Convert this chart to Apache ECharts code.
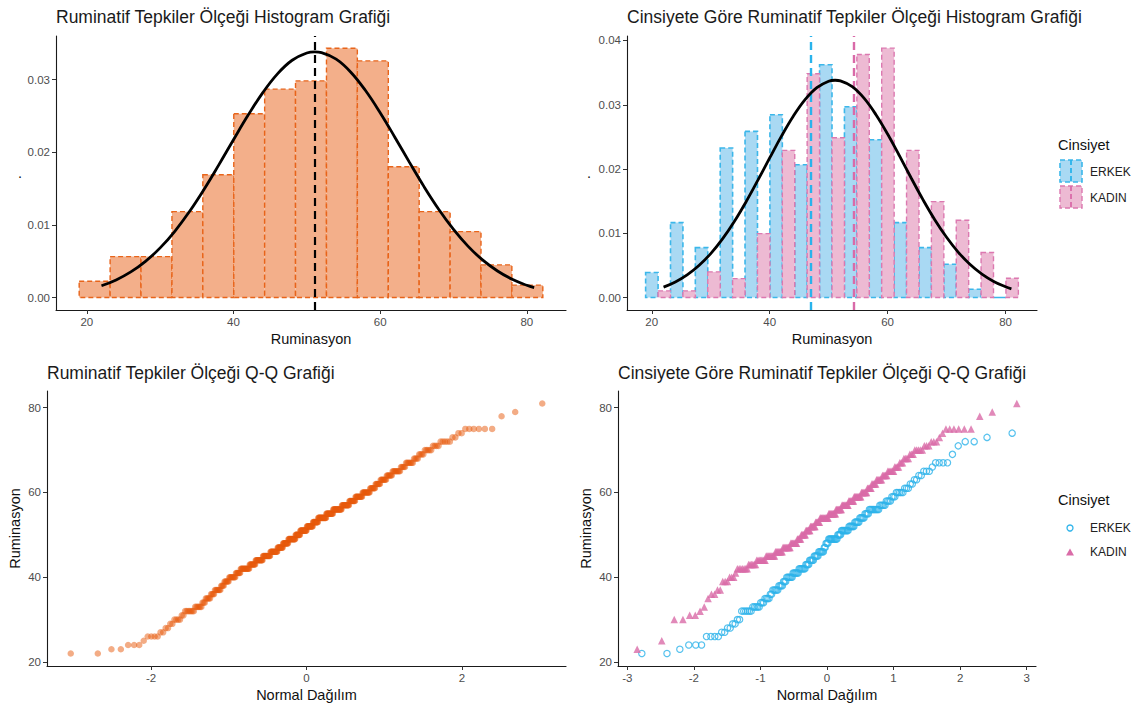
<!DOCTYPE html>
<html><head><meta charset="utf-8">
<script src="https://cdn.jsdelivr.net/npm/echarts@6/dist/echarts.min.js"></script>
<style>html,body{margin:0;padding:0;background:#fff}#c{width:1146px;height:707px}</style>
</head><body><div id="c"></div>
<script>
// ---------- data ----------
const binEdges = [18.96,23.18,27.39,31.61,35.82,40.04,44.25,48.46,52.68,56.89,61.11,65.32,69.54,73.75,77.96,82.18];
const densityAll = [0.00224,0.00563,0.00563,0.01182,0.0169,0.02529,0.02868,0.02982,0.03431,0.03257,0.0180,0.01182,0.00907,0.00449,0.0017];
const densityErkek = [0.00389,0.01166,0.00777,0.02326,0.02585,0.02845,0.02067,0.03622,0.02969,0.02456,0.01166,0.00777,0.00518,0.0013,0];
const densityKadin = [0.00104,0.00104,0.00399,0.00295,0.00995,0.0229,0.03482,0.02487,0.03782,0.03881,0.0229,0.01492,0.01202,0.007,0.003];

const curveX = [22,24,26,28,30,32,34,36,38,40,42,44,46,48,50,51.1,52,54,56,58,60,62,64,66,68,70,72,74,76,78,80,81];
const curveY = [0.00162,0.00242,0.00352,0.00498,0.00683,0.00912,0.01183,0.01491,0.01826,0.02172,0.02511,0.02821,0.03079,0.03266,0.03366,0.03381,0.03371,0.03281,0.03102,0.02849,0.02544,0.02207,0.01860,0.01523,0.01212,0.00938,0.00704,0.00514,0.00365,0.00251,0.00168,0.00136];

const meanAll = 51.1, meanErkek = 47.0, meanKadin = 54.2;

const erkekScores = [22,23,24,26,27,28,29,30,32,33,34,35,36,37,38,39,40,41,42,43,44,45,46,47,48,49,50,51,52,53,54,55,56,57,58,59,60,61,62,63,64,65,66,67,69,71,72,73,74];
const erkekCounts = [2,1,3,4,2,2,2,2,6,5,3,4,2,5,4,3,6,6,7,4,5,5,6,2,3,10,4,8,6,5,5,4,9,5,4,3,5,3,2,2,2,3,1,4,1,1,2,1,1];
const kadinScores = [23,25,30,31,32,33,35,36,37,39,40,41,42,43,44,45,46,47,48,49,50,51,52,53,54,55,56,57,58,59,60,61,62,63,64,65,66,67,68,69,70,71,72,73,74,75,78,79,81];
const kadinCounts = [1,1,2,2,1,1,1,2,2,3,3,1,7,6,8,9,8,9,8,5,6,6,7,6,12,10,8,9,7,9,7,5,5,6,5,6,4,3,4,3,5,3,3,1,1,6,1,1,1];

const xTicksHist = [20,40,60,80];
const yTicksHist1 = [0,0.01,0.02,0.03];
const yTicksHist2 = [0,0.01,0.02,0.03,0.04];
const xTicksQQ1 = [-2,0,2];
const xTicksQQ2 = [-3,-2,-1,0,1,2,3];
const yTicksQQ = [20,40,60,80];

// ---------- helpers ----------
function qnorm(p){
  const a=[-3.969683028665376e+01,2.209460984245205e+02,-2.759285104469687e+02,1.383577518672690e+02,-3.066479806614716e+01,2.506628277459239e+00];
  const b=[-5.447609879822406e+01,1.615858368580409e+02,-1.556989798598866e+02,6.680131188771972e+01,-1.328068155288572e+01];
  const c=[-7.784894002430293e-03,-3.223964580411365e-01,-2.400758277161838e+00,-2.549732539343734e+00,4.374664141464968e+00,2.938163982698783e+00];
  const d=[7.784695709041462e-03,3.224671290700398e-01,2.445134137142996e+00,3.754408661907416e+00];
  const pl=0.02425, ph=1-pl; let q,r;
  if(p<pl){q=Math.sqrt(-2*Math.log(p));return (((((c[0]*q+c[1])*q+c[2])*q+c[3])*q+c[4])*q+c[5])/((((d[0]*q+d[1])*q+d[2])*q+d[3])*q+1);}
  if(p>ph){q=Math.sqrt(-2*Math.log(1-p));return -(((((c[0]*q+c[1])*q+c[2])*q+c[3])*q+c[4])*q+c[5])/((((d[0]*q+d[1])*q+d[2])*q+d[3])*q+1);}
  q=p-0.5;r=q*q;return (((((a[0]*r+a[1])*r+a[2])*r+a[3])*r+a[4])*r+a[5])*q/(((((b[0]*r+b[1])*r+b[2])*r+b[3])*r+b[4])*r+1);
}
function expand(scores, counts){const out=[];scores.forEach((s,i)=>{for(let k=0;k<counts[i];k++)out.push(s);});return out.sort((x,y)=>x-y);}
function qq(values){const n=values.length;return values.map((v,i)=>[qnorm((i+0.5)/n),v]);}

const erkekVals = expand(erkekScores, erkekCounts);
const kadinVals = expand(kadinScores, kadinCounts);
const allVals = erkekVals.concat(kadinVals).sort((x,y)=>x-y);

const histAll = densityAll.map((d,i)=>[binEdges[i],binEdges[i+1],d]);
const histErkek = densityErkek.map((d,i)=>[binEdges[i],(binEdges[i]+binEdges[i+1])/2,d]);
const histKadin = densityKadin.map((d,i)=>[(binEdges[i]+binEdges[i+1])/2,binEdges[i+1],d]);
const curve = curveX.map((x,i)=>[x,curveY[i]]);

// ---------- styles ----------
const FONT = "'Liberation Sans', Arial, Helvetica, sans-serif";
function xAx(gi, min, max, ticks, name, fmt){
  return {type:'value', gridIndex:gi, min:min, max:max,
    axisLine:{show:true,onZero:false,lineStyle:{color:'#1a1a1a',width:1.1}},
    axisTick:{show:true,length:4,customValues:ticks,lineStyle:{color:'#333',width:1}},
    axisLabel:{show:true,customValues:ticks,color:'#4d4d4d',fontSize:11.5,fontFamily:FONT,margin:6,formatter:fmt||(v=>String(v))},
    splitLine:{show:false},
    name:name,nameLocation:'middle',nameGap:21,nameTextStyle:{fontSize:14.5,color:'#111',fontFamily:FONT}};
}
function yAx(gi, min, max, ticks, name, fmt, gap, rot){
  return {type:'value', gridIndex:gi, min:min, max:max,
    axisLine:{show:true,onZero:false,lineStyle:{color:'#1a1a1a',width:1.1}},
    axisTick:{show:true,length:4,customValues:ticks,lineStyle:{color:'#333',width:1}},
    axisLabel:{show:true,customValues:ticks,color:'#4d4d4d',fontSize:11.5,fontFamily:FONT,margin:6,formatter:fmt||(v=>String(v))},
    splitLine:{show:false},
    name:name,nameLocation:'middle',nameGap:gap,nameRotate:rot,nameTextStyle:{fontSize:14.5,color:'#111',fontFamily:FONT}};
}
function rectSeries(xi, data, fill, stroke, lw, z){
  return {type:'custom', xAxisIndex:xi, yAxisIndex:xi, data:data, z:z, encode:{x:[0,1],y:2}, silent:true,
    renderItem:function(params, api){
      const p0=api.coord([api.value(0),api.value(2)]);
      const p1=api.coord([api.value(1),0]);
      return {type:'rect', shape:{x:p0[0],y:p0[1],width:p1[0]-p0[0],height:p1[1]-p0[1]},
        style:{fill:fill,stroke:stroke,lineWidth:lw,lineDash:[5,3]}};
    }};
}
function vline(xi, x, color, w){
  return {type:'line', xAxisIndex:xi, yAxisIndex:xi, data:[], z:4,
    markLine:{silent:true,symbol:['none','none'],animation:false,label:{show:false},
      lineStyle:{color:color,width:w,type:[8,5]},data:[{xAxis:x}]}};
}
const titleStyle = {fontSize:17.5,fontWeight:'normal',color:'#1a1a1a',fontFamily:FONT};
const txt = (x,y,t,size,color)=>({type:'text',x:x,y:y,style:{text:t,fontSize:size,fill:color,fontFamily:FONT,verticalAlign:'middle',textVerticalAlign:'middle',align:'left'}});

const option = {
  animation:false,
  backgroundColor:'#fff',
  title:[
    {text:'Ruminatif Tepkiler Ölçeği Histogram Grafiği',left:56,top:8,padding:0,textStyle:titleStyle},
    {text:'Cinsiyete Göre Ruminatif Tepkiler Ölçeği Histogram Grafiği',left:627,top:8,padding:0,textStyle:titleStyle},
    {text:'Ruminatif Tepkiler Ölçeği Q-Q Grafiği',left:47,top:364,padding:0,textStyle:titleStyle},
    {text:'Cinsiyete Göre Ruminatif Tepkiler Ölçeği Q-Q Grafiği',left:618,top:364,padding:0,textStyle:titleStyle}
  ],
  grid:[
    {left:56,top:36,width:510,height:274,outerBoundsMode:'none'},
    {left:627,top:36,width:410,height:274,outerBoundsMode:'none'},
    {left:47,top:391,width:519,height:275,outerBoundsMode:'none'},
    {left:618,top:391,width:418,height:275,outerBoundsMode:'none'}
  ],
  xAxis:[
    xAx(0,15.8,85.34,xTicksHist,'Ruminasyon'),
    xAx(1,15.8,85.34,xTicksHist,'Ruminasyon'),
    xAx(2,-3.34,3.34,xTicksQQ1,'Normal Dağılım'),
    xAx(3,-3.14,3.14,xTicksQQ2,'Normal Dağılım')
  ],
  yAxis:[
    yAx(0,-0.00172,0.0360,yTicksHist1,'.',v=>v.toFixed(2),34,0),
    yAx(1,-0.00194,0.0407,yTicksHist2,'.',v=>v.toFixed(2),36,0),
    yAx(2,19.05,83.95,yTicksQQ,'Ruminasyon',null,25,90),
    yAx(3,19.05,83.95,yTicksQQ,'Ruminasyon',null,25,90)
  ],
  series:[
    rectSeries(0,histAll,'#F3AF8A','#E8641A',1.4,1),
    vline(0,meanAll,'#000',2.2),
    {type:'line',xAxisIndex:0,yAxisIndex:0,data:curve,smooth:0.4,showSymbol:false,z:5,lineStyle:{color:'#000',width:2.8}},

    rectSeries(1,histErkek,'#A9D9F3','#3BB7EA',1.6,1),
    rectSeries(1,histKadin,'#EDBAD3','#DC78B0',1.4,2),
    vline(1,meanErkek,'#29B3EC',2.4),
    vline(1,meanKadin,'#D96AA8',2.4),
    {type:'line',xAxisIndex:1,yAxisIndex:1,data:curve,smooth:0.4,showSymbol:false,z:5,lineStyle:{color:'#000',width:2.8}},

    {type:'scatter',name:'Tümü',xAxisIndex:2,yAxisIndex:2,data:qq(allVals),symbol:'circle',symbolSize:6.5,
      itemStyle:{color:'#E8590C',opacity:0.5},silent:true},

    {type:'scatter',name:'ERKEK',xAxisIndex:3,yAxisIndex:3,data:qq(erkekVals),symbol:'circle',symbolSize:6.3,
      itemStyle:{color:'rgba(0,0,0,0)',borderColor:'#2DB3EA',borderWidth:1.2},silent:true},
    {type:'scatter',name:'KADIN',xAxisIndex:3,yAxisIndex:3,data:qq(kadinVals),symbol:'triangle',symbolSize:7.5,
      itemStyle:{color:'#DA6CA8'},silent:true}
  ],
  graphic:[
    txt(1058,145,'Cinsiyet',14.5,'#111'),
    {type:'rect',shape:{x:1060,y:160,width:22,height:22},style:{fill:'#A9D9F3',stroke:'#3BB7EA',lineWidth:1.6,lineDash:[5,3]}},
    {type:'line',shape:{x1:1071,y1:160,x2:1071,y2:182},style:{stroke:'#29B3EC',lineWidth:1.8,lineDash:[5,3]}},
    txt(1090,172,'ERKEK',12,'#222'),
    {type:'rect',shape:{x:1060,y:186,width:22,height:22},style:{fill:'#EDBAD3',stroke:'#DC78B0',lineWidth:1.4,lineDash:[5,3]}},
    {type:'line',shape:{x1:1071,y1:186,x2:1071,y2:208},style:{stroke:'#D96AA8',lineWidth:1.8,lineDash:[5,3]}},
    txt(1090,198,'KADIN',12,'#222'),

    txt(1058,500,'Cinsiyet',14.5,'#111'),
    {type:'circle',shape:{cx:1070,cy:528,r:3},style:{fill:'none',stroke:'#2DB3EA',lineWidth:1.3}},
    txt(1090,528,'ERKEK',12,'#222'),
    {type:'polygon',shape:{points:[[1066,555.5],[1074,555.5],[1070,548.5]]},style:{fill:'#DA6CA8'}},
    txt(1090,552,'KADIN',12,'#222')
  ]
};
const chart = echarts.init(document.getElementById('c'), null, {renderer:'svg'});
chart.setOption(option);
</script></body></html>
